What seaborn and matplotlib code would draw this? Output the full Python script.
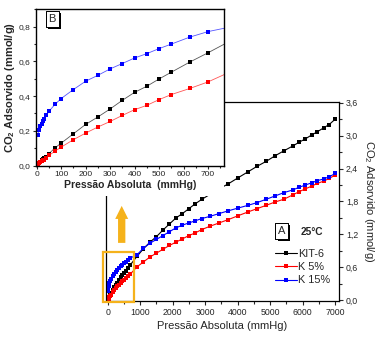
import matplotlib
matplotlib.use('Agg')
import matplotlib.pyplot as plt
import matplotlib.patheffects as pe
from matplotlib.lines import Line2D
from matplotlib.patches import Rectangle, FancyArrow
from matplotlib.ticker import MultipleLocator, FuncFormatter
import pandas as pd
import seaborn as sns

sns.set_style("ticks")
plt.rcParams['font.family'] = ['Liberation Sans', 'DejaVu Sans']
plt.rcParams['mathtext.fontset'] = 'custom'
plt.rcParams['mathtext.rm'] = 'Liberation Sans'
plt.rcParams['mathtext.bf'] = 'Liberation Sans:bold'

#pressure points (mmHg)
pressao = [5, 10, 15, 20, 25, 30, 40, 50, 75, 100, 150, 200, 250, 300, 350, 400, 450, 500, 550, 625, 700,
           900, 1100, 1300, 1500, 1700, 1900, 2100, 2300, 2500, 2700, 2900, 3150, 3430, 3710, 4010, 4320,
           4600, 4880, 5150, 5420, 5700, 5900, 6090, 6280, 6460, 6650, 6820, 7010]

#CO2 adsorbed (mmol/g)
kit6 = [0.008, 0.016, 0.023, 0.030, 0.036, 0.042, 0.052, 0.068, 0.102, 0.129, 0.183, 0.237, 0.280, 0.326,
        0.376, 0.422, 0.457, 0.499, 0.538, 0.596, 0.650,
        0.80, 0.94, 1.06, 1.16, 1.28, 1.39, 1.50, 1.58, 1.67, 1.76, 1.84, 1.93, 2.03, 2.12, 2.23, 2.34,
        2.44, 2.53, 2.63, 2.72, 2.81, 2.88, 2.94, 3.01, 3.07, 3.14, 3.20, 3.30]
k5 = [0.006, 0.012, 0.018, 0.024, 0.029, 0.034, 0.045, 0.058, 0.083, 0.106, 0.149, 0.187, 0.222, 0.254,
      0.289, 0.322, 0.347, 0.380, 0.409, 0.444, 0.482,
      0.61, 0.70, 0.79, 0.86, 0.93, 1.00, 1.06, 1.12, 1.18, 1.23, 1.29, 1.35, 1.41, 1.47, 1.54, 1.61,
      1.67, 1.73, 1.79, 1.84, 1.92, 1.98, 2.03, 2.08, 2.13, 2.17, 2.22, 2.28]
k15 = [0.174, 0.205, 0.225, 0.242, 0.256, 0.268, 0.290, 0.312, 0.353, 0.386, 0.438, 0.486, 0.520, 0.557,
       0.588, 0.620, 0.645, 0.674, 0.700, 0.740, 0.772,
       0.83, 0.95, 1.04, 1.11, 1.18, 1.25, 1.32, 1.37, 1.41, 1.45, 1.49, 1.53, 1.58, 1.63, 1.68, 1.73,
       1.78, 1.84, 1.90, 1.96, 2.01, 2.06, 2.10, 2.14, 2.18, 2.21, 2.25, 2.31]

amostras = ['KIT-6', 'K 5%', 'K 15%']
cores = ['black', '#ff0000', '#0000ff']
cores_inset = ['#555555', '#ff5555', '#5555ff']

df = pd.DataFrame({'p': pressao * 3,
                   'q': kit6 + k5 + k15,
                   'amostra': [a for a in amostras for _ in pressao]})

virgula = FuncFormatter(lambda v, pos: ('%.1f' % v).replace('.', ','))

fig = plt.figure(figsize=(3.83, 3.42), dpi=100)

#main plot (A)
ax = fig.add_axes([0.2768, 0.1199, 0.6084, 0.5819])
for a, c in zip(amostras, cores):
    sns.lineplot(data=df[df.amostra == a], x='p', y='q', color=c, lw=0.8, marker='s',
                 markersize=3.4, markeredgewidth=0, ax=ax, legend=False)
ax.set_xlim(-52, 7123)
ax.set_ylim(-0.01, 3.61)
ax.yaxis.tick_right()
ax.yaxis.set_label_position('right')
ax.xaxis.set_major_locator(MultipleLocator(1000))
ax.xaxis.set_minor_locator(MultipleLocator(500))
ax.yaxis.set_major_locator(MultipleLocator(0.6))
ax.yaxis.set_minor_locator(MultipleLocator(0.3))
ax.yaxis.set_major_formatter(virgula)
ax.tick_params(which='both', direction='out', width=0.8, labelsize=6.3, pad=2)
ax.tick_params(which='major', length=3)
ax.tick_params(which='minor', length=1.8)
for s in ax.spines.values():
    s.set_linewidth(0.9)
    s.set_color('black')
ax.set_xlabel('Pressão Absoluta (mmHg)', fontsize=8, labelpad=3)
ax.set_ylabel('CO$_2$ Adsorvido (mmol/g)', fontsize=8, rotation=270, va='bottom', labelpad=3)

#zoom box and arrow
ax.add_patch(Rectangle((-160, -0.02), 985, 0.91, fill=False, ec='#f5b21b', lw=1.6, clip_on=False, zorder=5))
ax.add_patch(FancyArrow(431, 1.047, 0, 0.673, width=225, head_width=400, head_length=0.237,
                        length_includes_head=True, color='#f5b21b', lw=0, zorder=5))

tA = ax.text(0.755, 0.352, 'A', transform=ax.transAxes, fontsize=8, ha='center', va='center',
             bbox=dict(boxstyle='square,pad=0.25', fc='white', ec='black', lw=0.7))
tA.get_bbox_patch().set_path_effects([pe.withSimplePatchShadow(offset=(1.5, -1.5), shadow_rgbFace='black', alpha=1),
                                      pe.Normal()])
ax.text(0.835, 0.347, '25°C', transform=ax.transAxes, fontsize=7.3, fontweight='bold', ha='left', va='center')

handles = [Line2D([], [], color=c, lw=0.8, marker='s', markersize=3.4, markeredgewidth=0) for c in cores]
ax.legend(handles, amostras, loc='upper left', bbox_to_anchor=(0.725, 0.262), frameon=False, fontsize=7.8,
          handlelength=2.0, handletextpad=0.1, labelspacing=0.3, borderpad=0, borderaxespad=0)

#white background behind the inset and its labels
fig.add_artist(Rectangle((0, 0.427), 0.585, 0.573, transform=fig.transFigure, fc='white', ec='none', zorder=1))

#inset (B)
ax2 = fig.add_axes([0.0932, 0.516, 0.4916, 0.4576])
ax2.set_zorder(2)
ax2.set_facecolor('white')
for a, c, cl in zip(amostras, cores, cores_inset):
    sub = df[df.amostra == a]
    sns.lineplot(data=sub, x='p', y='q', color=cl, lw=0.6, ax=ax2, legend=False)
    sns.lineplot(data=sub, x='p', y='q', color=c, lw=0, marker='s', markersize=2.6,
                 markeredgewidth=0, ax=ax2, legend=False)
ax2.set_xlim(-4, 765)
ax2.set_ylim(0, 0.902)
ax2.xaxis.set_major_locator(MultipleLocator(100))
ax2.xaxis.set_minor_locator(MultipleLocator(50))
ax2.yaxis.set_major_locator(MultipleLocator(0.2))
ax2.yaxis.set_minor_locator(MultipleLocator(0.1))
ax2.yaxis.set_major_formatter(virgula)
ax2.tick_params(which='both', direction='out', width=0.8, labelsize=6, pad=1.5)
ax2.tick_params(which='major', length=2.5)
ax2.tick_params(which='minor', length=1.5)
for s in ax2.spines.values():
    s.set_linewidth(1.0)
    s.set_color('black')
ax2.set_xlabel('Pressão Absoluta  (mmHg)', fontsize=7.5, fontweight='bold', labelpad=1.5)
ax2.set_ylabel(r'CO$_\mathbf{2}$ Adsorvido (mmol/g)', fontsize=8, fontweight='bold', labelpad=1)

tB = ax2.text(0.087, 0.936, 'B', transform=ax2.transAxes, fontsize=8, ha='center', va='center',
              bbox=dict(boxstyle='square,pad=0.25', fc='white', ec='black', lw=0.7))
tB.get_bbox_patch().set_path_effects([pe.withSimplePatchShadow(offset=(1.5, -1.5), shadow_rgbFace='black', alpha=1),
                                      pe.Normal()])

plt.savefig('out.png', dpi=100)
